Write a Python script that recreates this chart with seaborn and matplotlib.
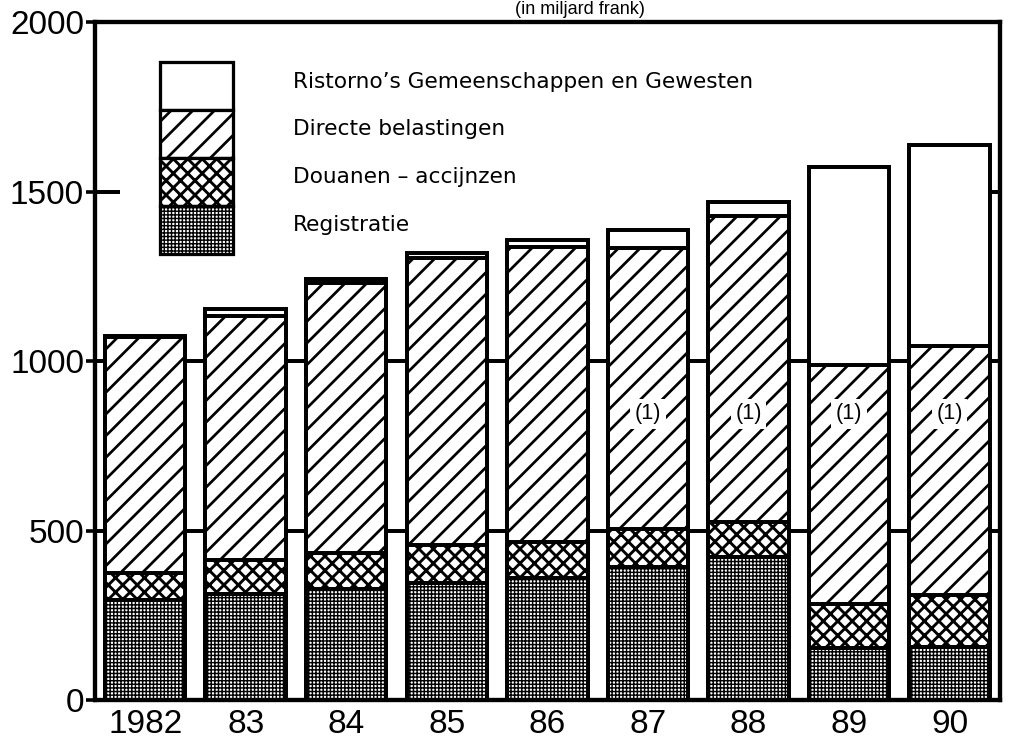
import matplotlib
matplotlib.use("Agg")
import matplotlib.pyplot as plt
import seaborn as sns
import numpy as np
import pandas as pd
from matplotlib.patches import Rectangle

# gegevens
jaren = ['1982', '83', '84', '85', '86', '87', '88', '89', '90']
registratie = [294, 313, 328, 347, 359, 393, 423, 153, 156]
douanen = [80, 101, 105, 110, 107, 113, 102, 132, 154]
directe = [696, 719, 799, 847, 870, 827, 904, 703, 736]
ristorno = [3, 21, 11, 16, 21, 55, 41, 586, 592]

reeksen = ['Ristorno\u2019s Gemeenschappen en Gewesten', 'Directe belastingen',
           'Douanen \u2013 accijnzen', 'Registratie']
yticks = [0, 500, 1000, 1500, 2000]

df = pd.DataFrame({'jaar': jaren, 'Registratie': registratie, 'Douanen': douanen,
                   'Directe': directe, 'Ristorno': ristorno})
df['c_reg'] = df['Registratie']
df['c_dou'] = df['c_reg'] + df['Douanen']
df['c_dir'] = df['c_dou'] + df['Directe']
df['c_ris'] = df['c_dir'] + df['Ristorno']

sns.set_theme(style='white')
plt.rcParams['font.family'] = ['Liberation Sans', 'DejaVu Sans']

DPI = 130
fig = plt.figure(figsize=(1009 / DPI, 744 / DPI), dpi=DPI)
ax = fig.add_axes([0.094, 0.059, 0.897, 0.911])

# arceringen per reeks (boven -> onder)
arcering = [('', 1.6), ('//', 1.5), ('xxx', 1.6), ('++++++', 0.8)]

# lagen van boven naar onder, elk vanaf 0 (onderste lagen overschrijven)
for kol, (hatch, hlw) in zip(['c_ris', 'c_dir', 'c_dou', 'c_reg'], arcering):
    plt.rcParams['hatch.linewidth'] = hlw
    n0 = len(ax.patches)
    sns.barplot(data=df, x='jaar', y=kol, color='white', edgecolor='black',
                linewidth=2.2, hatch=hatch, saturation=1, width=0.8, ax=ax, zorder=2)
    for p in ax.patches[n0:]:
        if hasattr(p, 'set_hatch_linewidth'):
            p.set_hatch_linewidth(hlw)

# rasterlijnen (alleen zichtbaar tussen de staven)
for g in [500, 1000]:
    ax.axhline(g, color='black', lw=2.2, zorder=0.5)
ax.hlines(1500, -0.5, -0.25, color='black', lw=2.2, zorder=0.5)
ax.hlines(1500, 7.9, 8.5, color='black', lw=2.2, zorder=0.5)

# (1) opmerkingen
for i in range(5, 9):
    ax.text(i, 845, '(1)', ha='center', va='center', fontsize=12, color='black',
            bbox=dict(facecolor='white', edgecolor='none', pad=2.5), zorder=3)

ax.set_xlim(-0.5, 8.5)
ax.set_ylim(0, 2000)
ax.set_yticks(yticks)
ax.set_yticklabels([str(v) for v in yticks])
ax.set_xlabel('')
ax.set_ylabel('')
ax.tick_params(axis='y', direction='out', length=5, width=2, pad=1,
               labelsize=18.5, colors='black', left=True)
ax.tick_params(axis='x', length=0, pad=5, labelsize=18.5, colors='black')
for s in ax.spines.values():
    s.set_visible(True)
    s.set_color('black')
    s.set_linewidth(2.4)

# legende (handgemaakt: gestapelde vakjes)
lx, lw_, lh = 0.072, 0.081, 0.0708
ly = 0.941
for k, (naam, (h, hlw)) in enumerate(zip(reeksen, arcering)):
    y0 = ly - (k + 1) * lh
    plt.rcParams['hatch.linewidth'] = hlw
    r = Rectangle((lx, y0), lw_, lh, transform=ax.transAxes, facecolor='white',
                  edgecolor='black', lw=1.8, hatch=h, zorder=4)
    if hasattr(r, 'set_hatch_linewidth'):
        r.set_hatch_linewidth(hlw)
    ax.add_patch(r)
    ax.text(0.219, y0 + lh * 0.6, naam, transform=ax.transAxes, fontsize=12,
            family=['DejaVu Sans'], color='black', va='center', ha='left', zorder=4)

# titel: klein, in de smalle strook boven de grafiek
fig.text(0.575, 1 - 1 / 744, '(in miljard frank)', ha='center', va='top',
         fontsize=10, color='black')

fig.savefig('out.png', dpi=DPI)
